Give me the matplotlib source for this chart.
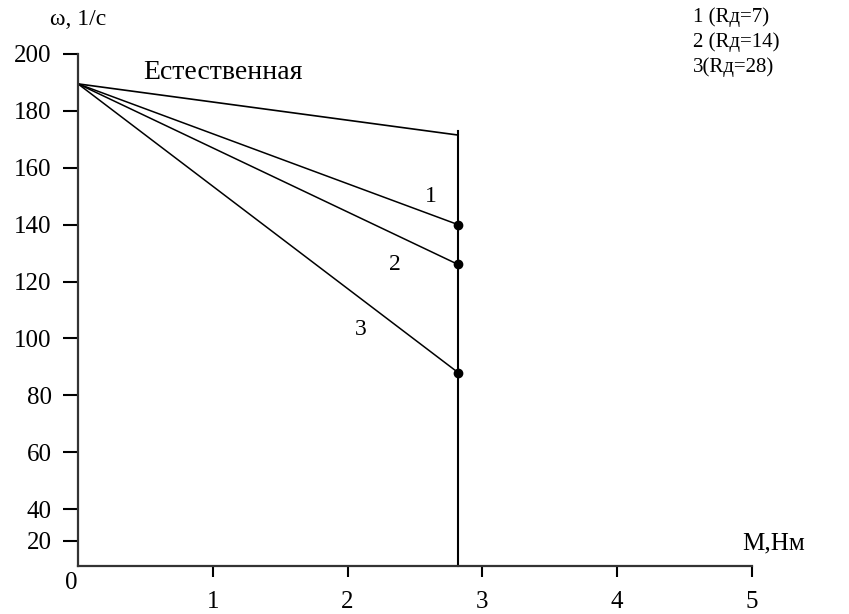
import matplotlib.pyplot as plt

plt.rcParams['font.family'] = ['Liberation Serif', 'DejaVu Serif']

# characteristics: start (M=0) and end (M=M_end) points
m_start = 0.0
m_end = 2.82
w_start = 189.5
w_natural_end = 171.5
w_rheo_end = [140.0, 126.0, 88.0]
rheo_names = ['1', '2', '3']
legend_lines = ['1 (Rд=7)', '2 (Rд=14)', '3(Rд=28)']
w_vert_top = 173.0

x_ticks = [1, 2, 3, 4, 5]
y_tick_pos = [28.8, 40, 60, 80, 100, 120, 140, 160, 180, 200]
y_tick_labels = ['20', '40', '60', '80', '100', '120', '140', '160', '180', '200']

fig = plt.figure(figsize=(8.49, 6.14), dpi=100)
ax = fig.add_axes([78 / 849, 48 / 614, 674 / 849, 512 / 614])
ax.set_xlim(0, 5)
ax.set_ylim(20, 200)

for s in ['top', 'right']:
    ax.spines[s].set_visible(False)
for s in ['left', 'bottom']:
    ax.spines[s].set_linewidth(1.6)
    ax.spines[s].set_color('#333333')

# natural characteristic
ax.plot([m_start, m_end], [w_start, w_natural_end], color='black', lw=1.2)
# rheostat characteristics
for w in w_rheo_end:
    ax.plot([m_start, m_end], [w_start, w], color='black', lw=1.1)
    ax.plot(m_end, w, 'o', color='black', ms=6)
# vertical load line
ax.plot([m_end, m_end], [20, w_vert_top], color='black', lw=1.5, clip_on=False)

ax.set_xticks(x_ticks)
ax.set_xticklabels([str(t) for t in x_ticks])
ax.set_yticks(y_tick_pos)
ax.set_yticklabels(y_tick_labels)
ax.tick_params(axis='x', length=8, width=1.5, pad=10, labelsize=18)
ax.tick_params(axis='y', length=11, width=1.5, pad=8, labelsize=18)

ax.text(-0.05, 14, '0', fontsize=18, ha='center', va='center', clip_on=False)
ax.text(-0.21, 212, 'ω, 1/с', fontsize=17, ha='left', va='center', clip_on=False)
ax.text(4.93, 28, 'М,Нм', fontsize=18, ha='left', va='center', clip_on=False)
ax.text(0.48, 193.5, 'Естественная', fontsize=20, ha='left', va='center')

label_pos = [(2.62, 150), (2.35, 126), (2.1, 103)]
for name, (x, y) in zip(rheo_names, label_pos):
    ax.text(x, y, name, fontsize=17, ha='center', va='center')

for i, t in enumerate(legend_lines):
    ax.text(4.56, 213 - i * 8.8, t, fontsize=15, ha='left', va='center', clip_on=False)

fig.savefig('out.png', dpi=100)
